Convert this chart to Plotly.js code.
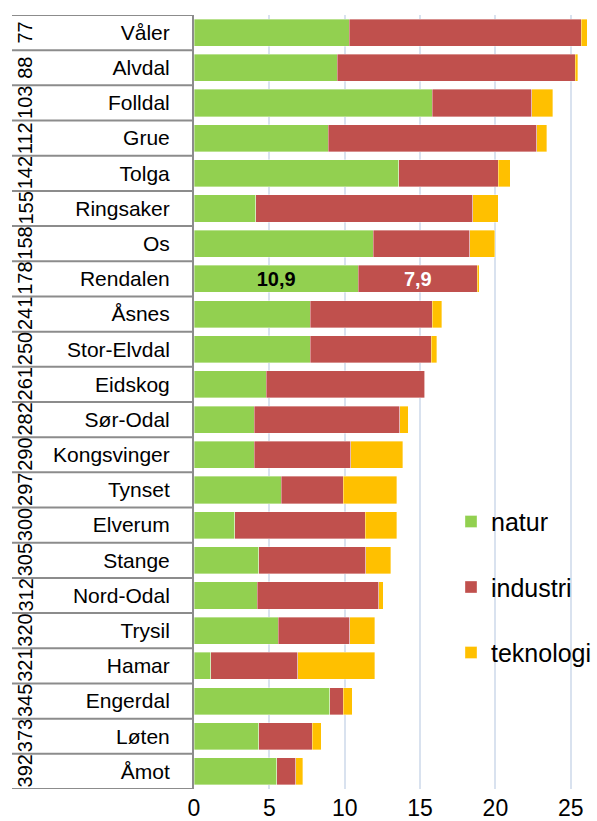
<!DOCTYPE html>
<html>
<head>
<meta charset="utf-8">
<script src="https://cdn.plot.ly/plotly-3.0.1.min.js"></script>
<style>html,body{margin:0;padding:0;background:#fff;overflow:hidden;}#chart{width:597px;height:821px;}</style>
</head>
<body>
<div id="chart"></div>
<script>
// ---- data ----
const names = ['Våler','Alvdal','Folldal','Grue','Tolga','Ringsaker','Os','Rendalen','Åsnes','Stor-Elvdal','Eidskog','Sør-Odal','Kongsvinger','Tynset','Elverum','Stange','Nord-Odal','Trysil','Hamar','Engerdal','Løten','Åmot'];
const ranks = ['77','88','103','112','142','155','158','178','241','250','261','282','290','297','300','305','312','320','321','345','373','392'];
const natur = [10.3, 9.5, 15.8, 8.9, 13.6, 4.1, 11.9, 10.9, 7.7, 7.7, 4.8, 4.0, 4.0, 5.8, 2.7, 4.3, 4.2, 5.6, 1.1, 9.0, 4.3, 5.5];
const industri = [15.4, 15.8, 6.6, 13.85, 6.6, 14.4, 6.4, 7.9, 8.1, 8.05, 10.5, 9.65, 6.4, 4.1, 8.65, 7.1, 8.05, 4.75, 5.8, 0.9, 3.55, 1.25];
const teknologi = [0.4, 0.15, 1.4, 0.65, 0.8, 1.7, 1.65, 0.13, 0.65, 0.35, 0.05, 0.55, 3.45, 3.55, 2.1, 1.65, 0.3, 1.65, 5.1, 0.6, 0.6, 0.45];
const labelled = 'Rendalen';
const xTicks = [0, 5, 10, 15, 20, 25];

const fmt = v => v.toFixed(1).replace('.', ',');
const lab = arr => arr.map((v, i) => names[i] === labelled ? fmt(v) : '');

const common = {
  type: 'bar', orientation: 'h', y: names,
  textposition: 'inside', insidetextanchor: 'middle', constraintext: 'none',
  hoverinfo: 'x+y'
};
const traces = [
  Object.assign({}, common, {name: 'natur', x: natur, legendgroup: 'a', text: lab(natur), texttemplate: '%{text}',
    marker: {color: '#92d050', line: {color: 'rgba(255,255,255,0.45)', width: 0.8}},
    textfont: {family: 'Liberation Sans, Arial', size: 20, color: '#000', weight: 'bold'}}),
  Object.assign({}, common, {name: 'industri', x: industri, legendgroup: 'b', text: lab(industri), texttemplate: '%{text}',
    marker: {color: '#c0504d', line: {color: 'rgba(255,255,255,0.45)', width: 0.8}},
    textfont: {family: 'Liberation Sans, Arial', size: 20, color: '#fff', weight: 'bold'}}),
  Object.assign({}, common, {name: 'teknologi', x: teknologi, legendgroup: 'c', text: teknologi.map(() => ''),
    marker: {color: '#ffc000', line: {color: 'rgba(255,255,255,0.45)', width: 0.8}}})
];

const L = 194, W = 597, plotW = W - L;
const shapes = [];
for (let i = 0; i <= names.length; i++) {
  shapes.push({type: 'line', xref: 'paper', yref: 'y', x0: (12 - L) / plotW, x1: 0, y0: i - 0.5, y1: i - 0.5,
    line: {color: '#8c8c8c', width: 2}});
}
const annotations = names.map((n, i) => ({
  xref: 'paper', yref: 'y', x: (25 - L) / plotW, y: n, text: ranks[i], textangle: -90,
  showarrow: false, xanchor: 'center', yanchor: 'middle',
  font: {family: 'Liberation Sans, Arial', size: 20, color: '#000'}
}));

const layout = {
  width: 597, height: 821,
  margin: {l: L, r: 0, t: 15, b: 32, pad: 0},
  paper_bgcolor: '#fff', plot_bgcolor: '#fff',
  barmode: 'stack', bargap: 0.23,
  separators: ', ',
  font: {family: 'Liberation Sans, Arial', color: '#000'},
  xaxis: {range: [0, 26.74], tickvals: xTicks, ticktext: xTicks.map(String),
    showgrid: true, gridcolor: '#d9e2ef', gridwidth: 2, zeroline: false, showline: false,
    ticks: '', ticklabelstandoff: 3, tickfont: {size: 23, color: '#000'}, fixedrange: true, automargin: false},
  yaxis: {type: 'category', autorange: false, range: [names.length - 0.5, -0.5],
    showline: true, linecolor: '#8c8c8c', linewidth: 2, ticks: '', showgrid: false, zeroline: false,
    ticklabelstandoff: 18, tickfont: {size: 21, color: '#000'}, fixedrange: true, automargin: false},
  legend: {x: 1, y: 0.375, xanchor: 'right', yanchor: 'top',
    traceorder: 'grouped', tracegroupgap: 30, bgcolor: 'rgba(0,0,0,0)',
    font: {size: 25, color: '#000'}},
  shapes: shapes,
  annotations: annotations
};

Plotly.newPlot('chart', traces, layout, {displayModeBar: false, staticPlot: true});
</script>
</body>
</html>
